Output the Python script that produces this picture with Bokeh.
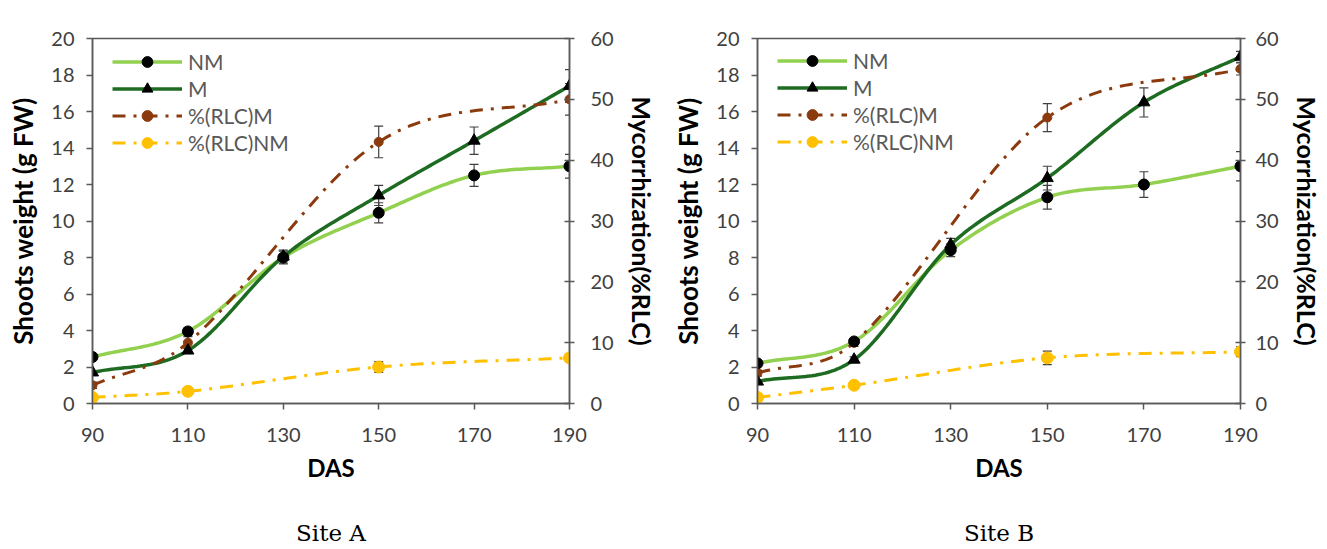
import numpy as np
from bokeh.plotting import figure
from bokeh.layouts import row
from bokeh.models import (Range1d, LinearAxis, FixedTicker, Whisker, TeeHead,
                          ColumnDataSource, Legend, LegendItem)
from bokeh.embed import file_html
from bokeh.resources import INLINE

# ---------------- data ----------------
DAS = [90, 110, 130, 150, 170, 190]
DAS_RLC = [90, 110, 150, 190]

# Site A  (shoot weight, g FW)
A_NM = [2.55, 3.95, 8.0, 10.45, 12.5, 13.0]
A_NM_ERR = [0.1, 0.2, 0.35, 0.55, 0.6, 0.65]
A_M = [1.7, 2.9, 8.05, 11.4, 14.4, 17.4]
A_M_ERR = [0.1, 0.15, 0.35, 0.55, 0.75, 0.9]
# Site A  (mycorrhization, %RLC)
A_RLC_M = [3.0, 10.0, 43.0, 50.0]
A_RLC_M_ERR = [0.5, 1.0, 2.6, 2.6]
A_RLC_NM = [1.0, 2.0, 6.0, 7.5]
A_RLC_NM_ERR = [0.3, 0.5, 0.9, 0.6]

# Site B
B_NM = [2.2, 3.4, 8.4, 11.3, 12.0, 13.0]
B_NM_ERR = [0.1, 0.15, 0.35, 0.65, 0.7, 0.8]
B_M = [1.2, 2.4, 8.7, 12.35, 16.5, 19.0]
B_M_ERR = [0.1, 0.15, 0.35, 0.65, 0.8, 0.3]
B_RLC_M = [5.0, 10.0, 47.0, 55.0]
B_RLC_M_ERR = [0.5, 0.6, 2.3, 1.0]
B_RLC_NM = [1.0, 3.0, 7.5, 8.5]
B_RLC_NM_ERR = [0.3, 0.5, 1.1, 0.8]

X_TICKS = [90, 110, 130, 150, 170, 190]
Y_TICKS = list(range(0, 21, 2))
Y2_TICKS = list(range(0, 61, 10))

LIGHT_GREEN = "#92D050"
DARK_GREEN = "#1E6B22"
BROWN = "#8B3A0E"
YELLOW = "#FFC000"
AXIS_COLOR = "#595959"
TICK_TEXT = "#404040"
FONT = "Lato"


def smooth(xs, ys, n=30):
    """Cubic Hermite (Catmull-Rom style) curve through the data points."""
    xs = np.asarray(xs, float)
    ys = np.asarray(ys, float)
    k = len(xs)
    m = np.zeros(k)
    for i in range(k):
        if i == 0:
            m[i] = (ys[1] - ys[0]) / (xs[1] - xs[0])
        elif i == k - 1:
            m[i] = (ys[-1] - ys[-2]) / (xs[-1] - xs[-2])
        else:
            m[i] = (ys[i + 1] - ys[i - 1]) / (xs[i + 1] - xs[i - 1])
    ox, oy = [], []
    for i in range(k - 1):
        h = xs[i + 1] - xs[i]
        t = np.linspace(0, 1, n, endpoint=(i == k - 2))
        h00 = 2 * t**3 - 3 * t**2 + 1
        h10 = t**3 - 2 * t**2 + t
        h01 = -2 * t**3 + 3 * t**2
        h11 = t**3 - t**2
        ox.extend(xs[i] + t * h)
        oy.extend(h00 * ys[i] + h10 * h * m[i] + h01 * ys[i + 1] + h11 * h * m[i + 1])
    return ox, oy


def whisker(p, xs, ys, errs, range_name="default"):
    src = ColumnDataSource(dict(x=xs,
                                upper=[y + e for y, e in zip(ys, errs)],
                                lower=[y - e for y, e in zip(ys, errs)]))
    w = Whisker(source=src, base="x", upper="upper", lower="lower",
                line_color="#404040", line_width=1.2,
                upper_head=TeeHead(size=9, line_color="#404040", line_width=1.2),
                lower_head=TeeHead(size=9, line_color="#404040", line_width=1.2))
    if range_name != "default":
        w.y_range_name = range_name
    p.add_layout(w)


def style_axis(ax, title_size):
    ax.axis_line_color = AXIS_COLOR
    ax.axis_line_width = 1.5
    ax.major_tick_line_color = AXIS_COLOR
    ax.major_tick_line_width = 1.5
    ax.minor_tick_line_color = None
    ax.major_label_text_font = FONT
    ax.major_label_text_font_size = "20px"
    ax.major_label_text_color = TICK_TEXT
    ax.axis_label_text_font = FONT
    ax.axis_label_text_font_size = title_size
    ax.axis_label_text_font_style = "bold"
    ax.axis_label_text_color = "#000000"


def panel(nm, nm_e, m, m_e, rm, rm_e, rn, rn_e, caption,
          width, mb_left, mb_right, mb_top, mb_bottom, legend_xy, right_standoff):
    p = figure(width=width, height=548, x_range=Range1d(90, 190), y_range=Range1d(0, 20),
               output_backend="svg", toolbar_location=None,
               min_border_left=mb_left, min_border_right=mb_right,
               min_border_top=mb_top, min_border_bottom=mb_bottom)
    p.extra_y_ranges = {"r": Range1d(0, 60)}
    p.grid.visible = False
    p.outline_line_color = AXIS_COLOR
    p.outline_line_width = 1.5
    p.background_fill_color = "white"
    p.border_fill_color = "white"

    xa = p.xaxis[0]
    ya = p.yaxis[0]
    xa.ticker = FixedTicker(ticks=X_TICKS)
    ya.ticker = FixedTicker(ticks=Y_TICKS)
    xa.axis_label = "DAS"
    ya.axis_label = "Shoots weight (g FW)"
    style_axis(xa, "24px")
    style_axis(ya, "26px")
    for ax in (xa, ya):
        ax.major_tick_in = 0
        ax.major_tick_out = 6
    xa.major_label_standoff = 18
    xa.axis_label_standoff = 8
    ya.major_label_standoff = 12
    ya.axis_label_standoff = 9

    ra = LinearAxis(y_range_name="r", axis_label="Mycorrhization(%RLC)",
                    ticker=FixedTicker(ticks=Y2_TICKS))
    style_axis(ra, "25px")
    ra.major_tick_in = 5
    ra.major_tick_out = 5
    ra.major_label_standoff = right_standoff
    ra.axis_label_standoff = 10
    p.add_layout(ra, "right")

    # caption under the panel, carried by a tick-less axis
    cap = LinearAxis(ticker=FixedTicker(ticks=[]), axis_label=caption)
    cap.axis_line_color = None
    cap.major_tick_line_color = None
    cap.minor_tick_line_color = None
    cap.major_tick_out = 0
    cap.major_tick_in = 0
    cap.major_label_text_font_size = "1px"
    cap.major_label_standoff = 0
    cap.axis_label_text_font = "DejaVu Serif"
    cap.axis_label_text_font_style = "normal"
    cap.axis_label_text_font_size = "23px"
    cap.axis_label_text_color = "#000000"
    cap.axis_label_standoff = 35
    p.add_layout(cap, "below")

    # smooth lines
    x1, y1 = smooth(DAS, nm)
    l_nm = p.line(x1, y1, line_color=LIGHT_GREEN, line_width=3.5)
    x2, y2 = smooth(DAS, m)
    l_m = p.line(x2, y2, line_color=DARK_GREEN, line_width=3.5)
    x3, y3 = smooth(DAS_RLC, rm)
    l_rm = p.line(x3, y3, line_color=BROWN, line_width=3, line_dash="13 8 3 8",
                  y_range_name="r")
    x4, y4 = smooth(DAS_RLC, rn)
    l_rn = p.line(x4, y4, line_color=YELLOW, line_width=3, line_dash="13 8 3 8",
                  y_range_name="r")

    # markers
    s_rn = p.scatter(DAS_RLC, rn, marker="circle", size=12, fill_color=YELLOW,
                     line_color=YELLOW, y_range_name="r")
    s_rm = p.scatter(DAS_RLC, rm, marker="circle", size=9, fill_color=BROWN,
                     line_color=BROWN, y_range_name="r")
    s_nm = p.scatter(DAS, nm, marker="circle", size=11, fill_color="black",
                     line_color="black")
    s_m = p.scatter(DAS, m, marker="triangle", size=12, fill_color="black",
                    line_color="black")

    whisker(p, DAS, nm, nm_e)
    whisker(p, DAS, m, m_e)
    whisker(p, DAS_RLC, rm, rm_e, "r")
    whisker(p, DAS_RLC, rn, rn_e, "r")

    legend = Legend(items=[
        LegendItem(label="NM", renderers=[l_nm, s_nm]),
        LegendItem(label="M", renderers=[l_m, s_m]),
        LegendItem(label="%(RLC)M", renderers=[l_rm, s_rm]),
        LegendItem(label="%(RLC)NM", renderers=[l_rn, s_rn]),
    ], location=legend_xy)
    legend.border_line_color = None
    legend.background_fill_alpha = 0
    legend.padding = 0
    legend.margin = 0
    legend.spacing = 0
    legend.glyph_width = 70
    legend.glyph_height = 27
    legend.label_height = 27
    legend.label_standoff = 6
    legend.label_text_font = FONT
    legend.label_text_font_size = "21px"
    legend.label_text_color = AXIS_COLOR
    p.add_layout(legend, "center")
    return p


pA = panel(A_NM, A_NM_ERR, A_M, A_M_ERR, A_RLC_M, A_RLC_M_ERR, A_RLC_NM, A_RLC_NM_ERR,
           "Site A", 663, 92, 94, 38, 144, (20, 247), 16)
pB = panel(B_NM, B_NM_ERR, B_M, B_M_ERR, B_RLC_M, B_RLC_M_ERR, B_RLC_NM, B_RLC_NM_ERR,
           "Site B", 663, 94, 86, 24, 142, (20, 248), 10)

layout = row(pA, pB)
open("out.html", "w").write(file_html(layout, INLINE))
